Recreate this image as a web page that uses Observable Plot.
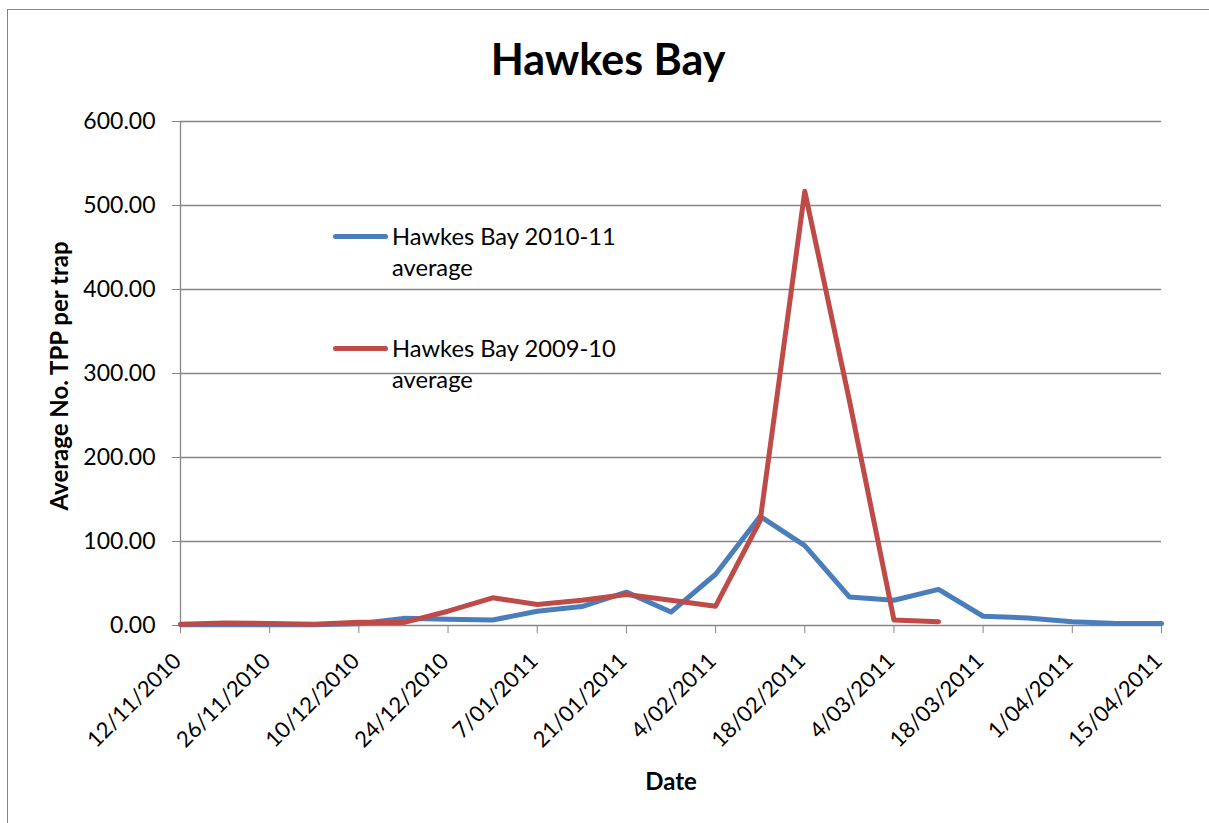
<!DOCTYPE html>
<html>
<head>
<meta charset="utf-8">
<script src="https://cdn.jsdelivr.net/npm/d3@7"></script>
<script src="https://cdn.jsdelivr.net/npm/@observablehq/plot@0.6"></script>
<style>
  html, body { margin: 0; padding: 0; background: #fff; overflow: hidden; }
  #page { position: relative; width: 1209px; height: 823px; overflow: hidden; font-family: Lato, "Open Sans", sans-serif; }
  #frame { position: absolute; left: 7px; top: 9px; width: 1300px; height: 900px; border: 1px solid #868686; box-sizing: border-box; }
  #title { position: absolute; left: 0; top: 34px; width: 1216px; text-align: center; font-size: 43px; line-height: 50px; font-weight: bold; }
  #chart { position: absolute; left: 0; top: 100px; }
  .ylab { position: absolute; left: -141px; top: 361px; width: 400px; height: 30px; line-height: 30px; text-align: center; font-size: 24px; font-weight: bold; transform: rotate(-90deg); }
  .xlab { position: absolute; left: 571px; top: 766px; width: 200px; line-height: 30px; text-align: center; font-size: 24px; font-weight: bold; }
  .leg { position: absolute; font-size: 23.7px; line-height: 31px; }
  .sw { position: absolute; height: 5px; border-radius: 3px; width: 55px; }
</style>
</head>
<body>
<div id="page">
  <div id="frame"></div>
  <div id="title">Hawkes Bay</div>
  <div id="chart"></div>
  <div class="ylab">Average No. TPP per trap</div>
  <div class="xlab">Date</div>
  <div id="legend"></div>
</div>
<script>
// ---- data ----
const seriesNames = ["Hawkes Bay 2010-11 average", "Hawkes Bay 2009-10 average"];
const seriesColors = ["#4A7EBB", "#BE4B48"];

const blueDates = ["2010-11-12","2010-11-19","2010-11-26","2010-12-03","2010-12-10","2010-12-17","2010-12-24","2010-12-31",
  "2011-01-07","2011-01-14","2011-01-21","2011-01-28","2011-02-04","2011-02-11","2011-02-18","2011-02-25",
  "2011-03-04","2011-03-11","2011-03-18","2011-03-25","2011-04-01","2011-04-08","2011-04-15"];
const blueValues = [1, 1, 1, 1, 2, 8.5, 7.5, 6.5, 17, 22.6, 39.7, 16, 61, 130, 95, 34, 30, 43, 11, 9, 4.5, 2.5, 2.5];

const redDates = ["2010-11-12","2010-11-19","2010-11-26","2010-12-03","2010-12-10","2010-12-17","2010-12-24","2010-12-31",
  "2011-01-07","2011-01-14","2011-01-21","2011-01-28","2011-02-04","2011-02-11","2011-02-18","2011-02-25",
  "2011-03-04","2011-03-11"];
const redValues = [1.5, 3, 2.5, 1.5, 4, 3.5, 17, 33, 25, 30, 37, 30, 23, 125, 517, 268, 6.5, 4.5];

const xTickDates = ["2010-11-12","2010-11-26","2010-12-10","2010-12-24","2011-01-07","2011-01-21","2011-02-04",
  "2011-02-18","2011-03-04","2011-03-18","2011-04-01","2011-04-15"];
const yTicks = [0, 100, 200, 300, 400, 500, 600];

// ---- build ----
const parse = d3.utcParse("%Y-%m-%d");
const blue = blueDates.map((d, i) => ({date: parse(d), value: blueValues[i]}));
const red = redDates.map((d, i) => ({date: parse(d), value: redValues[i]}));
const xTicks = xTickDates.map(parse);
const fmtDate = d3.utcFormat("%-d/%m/%Y");
const fmtY = d3.format(".2f");
const grey = "#868686";

const chart = Plot.plot({
  width: 1209,
  height: 723,
  marginTop: 21,
  marginBottom: 198,
  marginLeft: 180,
  marginRight: 48,
  style: {fontFamily: "Lato, 'Open Sans', sans-serif", fontSize: "23px", color: "#000", background: "transparent", overflow: "visible"},
  x: {type: "utc", domain: [xTicks[0], xTicks[xTicks.length - 1]]},
  y: {domain: [0, 600]},
  marks: [
    Plot.gridY(yTicks.filter(d => d > 0), {stroke: grey, strokeOpacity: 1, strokeWidth: 1.3}),
    Plot.ruleY([0], {stroke: grey, strokeWidth: 1.3}),
    Plot.ruleX([xTicks[0]], {stroke: grey, strokeWidth: 1.3}),
    // tick marks only
    Plot.axisY(yTicks, {tickFormat: () => "", tickSize: 8, stroke: grey, label: null}),
    Plot.axisX(xTicks, {tickFormat: () => "", tickSize: 8, stroke: grey, label: null}),
    // tick labels only
    Plot.axisY(yTicks, {tickFormat: fmtY, tickSize: 0, tickPadding: 25, stroke: null, fill: "#000", label: null, fontSize: 23}),
    Plot.axisX(xTicks, {tickFormat: fmtDate, tickSize: 0, tickPadding: 32, tickRotate: -45, stroke: null, fill: "#000", label: null, fontSize: 22, dx: -3}),
    Plot.lineY(blue, {x: "date", y: "value", stroke: seriesColors[0], strokeWidth: 5, strokeLinejoin: "round", strokeLinecap: "round"}),
    Plot.lineY(red, {x: "date", y: "value", stroke: seriesColors[1], strokeWidth: 5, strokeLinejoin: "round", strokeLinecap: "round"})
  ]
});
document.getElementById("chart").appendChild(chart);

// ---- legend ----
const legend = document.getElementById("legend");
const legendTops = [221, 333];
seriesNames.forEach((name, i) => {
  const sw = document.createElement("div");
  sw.className = "sw";
  sw.style.background = seriesColors[i];
  sw.style.left = "333px";
  sw.style.top = (legendTops[i] + 13) + "px";
  legend.appendChild(sw);
  const t = document.createElement("div");
  t.className = "leg";
  t.style.left = "392px";
  t.style.top = legendTops[i] + "px";
  const parts = name.split(" average");
  t.innerHTML = parts[0] + "<br>average";
  legend.appendChild(t);
});
</script>
</body>
</html>
